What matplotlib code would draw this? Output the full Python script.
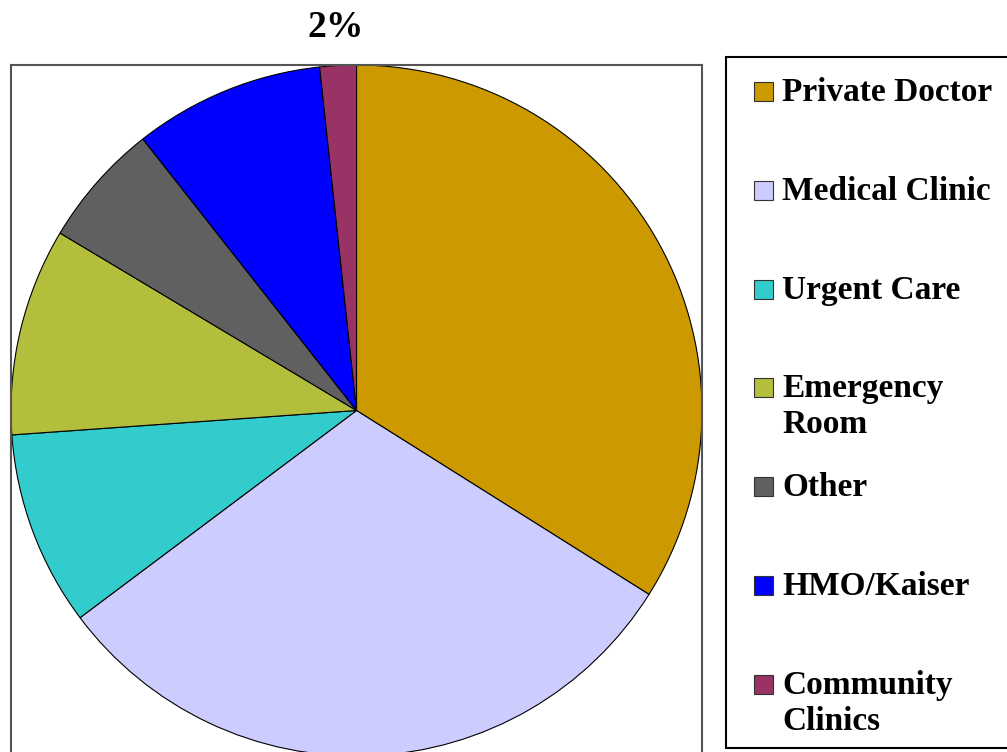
import matplotlib
matplotlib.use('Agg')
import matplotlib.pyplot as plt
from matplotlib.patches import Rectangle
import numpy as np

labels = ['Private Doctor', 'Medical Clinic', 'Urgent Care', 'Emergency\nRoom',
          'Other', 'HMO/Kaiser', 'Community\nClinics']
values = [33.9, 30.8, 9.1, 9.7, 5.8, 8.9, 1.7]
colors = ['#CC9900', '#CCCCFF', '#33CCCC', '#B2BE3C', '#606060', '#0000FF', '#993366']
shown_pct = ['', '', '', '', '', '', '2%']

W, H = 1007, 752
plt.rcParams['font.family'] = ['Liberation Serif', 'DejaVu Serif']
plt.rcParams['font.weight'] = 'bold'

fig = plt.figure(figsize=(W / 100, H / 100), dpi=100)

# plot area box in pixels (left, top, size) - runs off the bottom of the figure
left, top, size = 11, 65, 691
ax = fig.add_axes([left / W, 1 - (top + size) / H, size / W, size / H])
wedges, _ = ax.pie(values, colors=colors, startangle=90, counterclock=False,
                   radius=1.0, frame=True,
                   wedgeprops=dict(edgecolor='black', linewidth=0.8))
ax.set_xlim(-1.0, 1.0)
ax.set_ylim(-1.0, 1.0)
ax.set_aspect('equal')
ax.set_xticks([])
ax.set_yticks([])
for s in ['left', 'top', 'right']:
    ax.spines[s].set_color('#555555')
    ax.spines[s].set_linewidth(1.5)
ax.spines['bottom'].set_visible(False)

# only the small slice label is visible
for w, txt in zip(wedges, shown_pct):
    if txt:
        ang = np.deg2rad((w.theta1 + w.theta2) / 2)
        ax.text(1.11 * np.cos(ang), 1.11 * np.sin(ang), txt, ha='center', va='center',
                fontsize=27, fontweight='bold', clip_on=False)

# legend box drawn by hand (Excel style, marker on first line)
fig.patches.append(Rectangle((726 / W, 1 - 748 / H), 300 / W, (748 - 57) / H,
                             transform=fig.transFigure, facecolor='white',
                             edgecolor='black', linewidth=1.5))
step = 98.8
for i, (lab, col) in enumerate(zip(labels, colors)):
    base = 101 + i * step
    fig.patches.append(Rectangle((754 / W, 1 - base / H), 19 / W, 19 / H,
                                 transform=fig.transFigure, facecolor=col,
                                 edgecolor='#333333', linewidth=0.8))
    for j, line in enumerate(lab.split('\n')):
        fig.text(782 / W, 1 - (base + j * 36) / H, line, ha='left', va='baseline',
                 fontsize=24, fontweight='bold')

fig.savefig('out.png', dpi=100)
